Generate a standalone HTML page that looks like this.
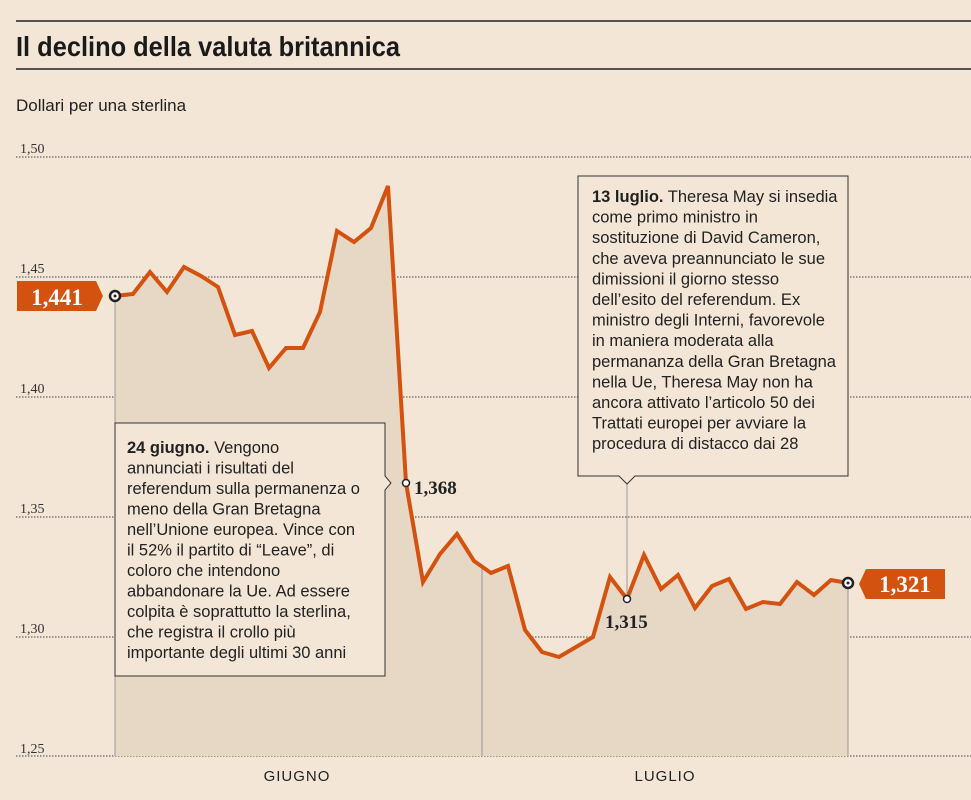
<!DOCTYPE html>
<html><head><meta charset="utf-8"><style>
body{margin:0;background:#f3e6d6;}
svg{display:block}
</style></head><body>
<svg width="971" height="800" viewBox="0 0 971 800" xmlns="http://www.w3.org/2000/svg" font-family="'Liberation Sans', sans-serif">
<rect width="971" height="800" fill="#f3e6d6"/>
<line x1="16" y1="21" x2="971" y2="21" stroke="#222" stroke-width="1.5"/>
<text x="16" y="56" font-weight="bold" font-size="28" fill="#1a1a1a" textLength="384" lengthAdjust="spacingAndGlyphs">Il declino della valuta britannica</text>
<line x1="16" y1="69" x2="971" y2="69" stroke="#222" stroke-width="1.5"/>
<text x="16" y="111" font-size="17" fill="#222">Dollari per una sterlina</text>
<g font-family="'Liberation Serif',serif" font-size="14" fill="#333">
<text x="20" y="153">1,50</text><text x="20" y="273">1,45</text><text x="20" y="393">1,40</text>
<text x="20" y="513">1,35</text><text x="20" y="633">1,30</text><text x="20" y="753">1,25</text>
</g>
<g stroke="#444" stroke-width="1" stroke-dasharray="1.5,1.5">
<line x1="16" y1="157" x2="971" y2="157"/><line x1="16" y1="277" x2="971" y2="277"/>
<line x1="16" y1="397" x2="971" y2="397"/><line x1="16" y1="517" x2="971" y2="517"/>
<line x1="16" y1="637" x2="971" y2="637"/><line x1="16" y1="756" x2="971" y2="756"/>
</g>
<polygon fill="#e7d8c5" points="115,756 115,296 133,294 150,272 167,292 184,267 201,276 218,287 235,335 252,331 269,368 286,348 303,348 320,312 337,231 354,242 371,228 388,186 406,483 423,582 440,554 457,534 474,561 491,573 508,566 525,630 542,652 559,657 576,647 593,637 610,577 627,599 644,555 661,589 678,575 695,608 712,586 729,579 746,609 763,602 780,604 797,582 814,595 831,580 848,583 848,756"/>
<g stroke="#999" stroke-width="1">
<line x1="115" y1="296" x2="115" y2="756"/><line x1="482" y1="568" x2="482" y2="756"/>
<line x1="848" y1="583" x2="848" y2="756"/><line x1="627" y1="599" x2="627" y2="484"/>
</g>
<polyline fill="none" stroke="#d4520f" stroke-width="4" stroke-linejoin="miter" points="115,296 133,294 150,272 167,292 184,267 201,276 218,287 235,335 252,331 269,368 286,348 303,348 320,312 337,231 354,242 371,228 388,186 406,483 423,582 440,554 457,534 474,561 491,573 508,566 525,630 542,652 559,657 576,647 593,637 610,577 627,599 644,555 661,589 678,575 695,608 712,586 729,579 746,609 763,602 780,604 797,582 814,595 831,580 848,583"/>
<circle cx="115" cy="296" r="5" fill="#fff" stroke="#222" stroke-width="2.5"/><circle cx="115" cy="296" r="1.5" fill="#222"/>
<circle cx="848" cy="583" r="5" fill="#fff" stroke="#222" stroke-width="2.5"/><circle cx="848" cy="583" r="1.5" fill="#222"/>
<circle cx="406" cy="483" r="3.5" fill="#fff" stroke="#222" stroke-width="1.5"/>
<circle cx="627" cy="599" r="3.5" fill="#fff" stroke="#222" stroke-width="1.5"/>
<polygon points="17,281 96,281 103,296 96,311 17,311" fill="#d4520f"/>
<text x="57" y="305" text-anchor="middle" font-family="'Liberation Serif',serif" font-weight="bold" font-size="23" fill="#fff">1,441</text>
<polygon points="866,569 945,569 945,599 866,599 859,584" fill="#d4520f"/>
<text x="905" y="592" text-anchor="middle" font-family="'Liberation Serif',serif" font-weight="bold" font-size="23" fill="#fff">1,321</text>
<g font-family="'Liberation Serif',serif" font-weight="bold" font-size="19" fill="#222">
<text x="414" y="494">1,368</text><text x="605" y="628">1,315</text>
</g>
<path d="M115,423 H385 V476 L391,483 L385,490 V676 H115 Z" fill="#f3e6d6" stroke="#333" stroke-width="1"/>
<g font-size="16.5" fill="#222">
<text x="127" y="453"><tspan font-weight="bold">24 giugno.</tspan> Vengono</text>
<text x="127" y="473.5">annunciati i risultati del</text>
<text x="127" y="494">referendum sulla permanenza o</text>
<text x="127" y="514.5">meno della Gran Bretagna</text>
<text x="127" y="535">nell’Unione europea. Vince con</text>
<text x="127" y="555.5">il 52% il partito di “Leave”, di</text>
<text x="127" y="576">coloro che intendono</text>
<text x="127" y="596.5">abbandonare la Ue. Ad essere</text>
<text x="127" y="617">colpita è soprattutto la sterlina,</text>
<text x="127" y="637.5">che registra il crollo più</text>
<text x="127" y="658">importante degli ultimi 30 anni</text>
</g>
<path d="M578,176 H848 V476 H635 L627,484 L619,476 H578 Z" fill="#f3e6d6" stroke="#333" stroke-width="1"/>
<g font-size="16.5" fill="#222">
<text x="592" y="202"><tspan font-weight="bold">13 luglio.</tspan> Theresa May si insedia</text>
<text x="592" y="222.6">come primo ministro in</text>
<text x="592" y="243.2">sostituzione di David Cameron,</text>
<text x="592" y="263.8">che aveva preannunciato le sue</text>
<text x="592" y="284.4">dimissioni il giorno stesso</text>
<text x="592" y="305">dell’esito del referendum. Ex</text>
<text x="592" y="325.6">ministro degli Interni, favorevole</text>
<text x="592" y="346.2">in maniera moderata alla</text>
<text x="592" y="366.8">permananza della Gran Bretagna</text>
<text x="592" y="387.4">nella Ue, Theresa May non ha</text>
<text x="592" y="408">ancora attivato l’articolo 50 dei</text>
<text x="592" y="428.6">Trattati europei per avviare la</text>
<text x="592" y="449.2">procedura di distacco dai 28</text>
</g>
<g font-size="15" fill="#222" letter-spacing="1" text-anchor="middle">
<text x="297" y="781">GIUGNO</text><text x="665" y="781">LUGLIO</text>
</g>
</svg>
</body></html>
